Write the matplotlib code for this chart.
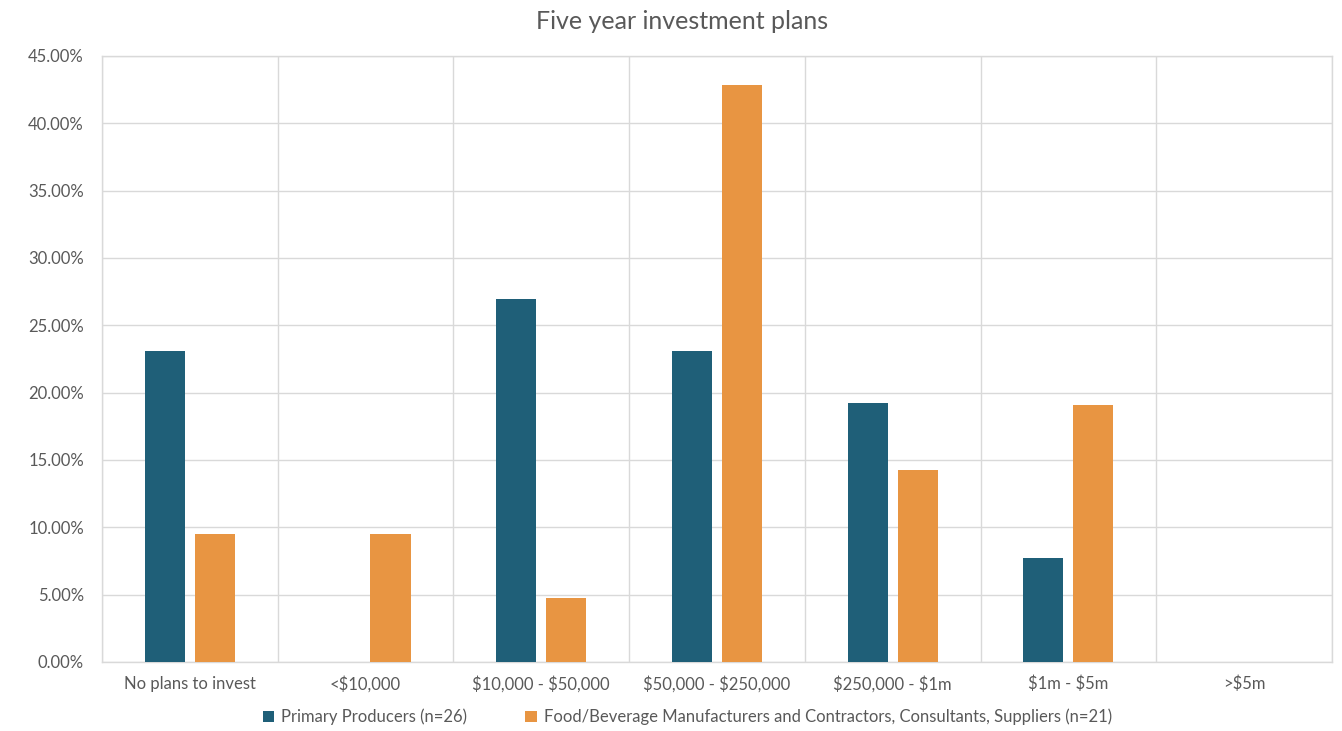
import matplotlib.pyplot as plt
import numpy as np
from matplotlib.ticker import PercentFormatter

plt.rcParams['font.family'] = ['Lato', 'DejaVu Sans']
plt.rcParams['text.parse_math'] = False

categorias = ['No plans to invest', '<$10,000', '$10,000 - $50,000', '$50,000 - $250,000',
              '$250,000 - $1m', '$1m - $5m', '>$5m']
primarios = [23.08, 0.0, 26.92, 23.08, 19.23, 7.69, 0.0]
alimentos = [9.52, 9.52, 4.76, 42.86, 14.29, 19.05, 0.0]
series_nomes = ['Primary Producers (n=26)',
                'Food/Beverage Manufacturers and Contractors, Consultants, Suppliers (n=21)']

cor_texto = '#595959'
cor_grade = '#D9D9D9'

fig = plt.figure(figsize=(13.42, 7.31), dpi=100)
ax = fig.add_axes([0.076, 0.0944, 0.9165, 0.829])

x = np.arange(len(categorias))
largura = 0.228
desloc = 0.142
ax.bar(x - desloc, primarios, largura, color='#1F5F78', label=series_nomes[0], zorder=3)
ax.bar(x + desloc, alimentos, largura, color='#E89542', label=series_nomes[1], zorder=3)

ax.set_xlim(-0.5, len(categorias) - 0.5)
ax.set_ylim(0, 45)
ax.set_yticks(np.arange(0, 46, 5))
ax.yaxis.set_major_formatter(PercentFormatter(decimals=2))
ax.set_xticks(x)
ax.set_xticklabels(categorias)
ax.set_xticks(np.arange(-0.5, len(categorias), 1), minor=True)

# Grade horizontal e vertical
ax.grid(axis='y', which='major', color=cor_grade, linewidth=1, zorder=0)
ax.grid(axis='x', which='minor', color=cor_grade, linewidth=1, zorder=0)
ax.tick_params(axis='both', which='both', length=0, colors=cor_texto, labelsize=12)
ax.tick_params(axis='x', pad=10)
ax.tick_params(axis='y', pad=13)
for lado in ax.spines.values():
    lado.set_color(cor_grade)
    lado.set_linewidth(1)

# Título centrado na figura
fig.text(0.508, 0.970, 'Five year investment plans', fontsize=18, color=cor_texto,
         ha='center', va='center')

fig.legend(loc='center', bbox_to_anchor=(0.512, 0.019), ncol=2, frameon=False,
           fontsize=12, labelcolor=cor_texto, handlelength=0.7, handleheight=0.7,
           handletextpad=0.4, columnspacing=3.5)

fig.savefig('out.png', dpi=100)
